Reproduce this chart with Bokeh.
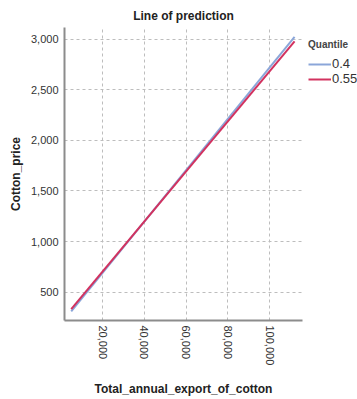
import math
from bokeh.plotting import figure
from bokeh.layouts import row
from bokeh.models import Legend, LegendItem, NumeralTickFormatter, FixedTicker, Range1d
from bokeh.embed import file_html
from bokeh.resources import INLINE

# data
quantiles = ["0.4", "0.55"]
x_ends = [5000, 112000]
y_q040 = [310, 3022]
y_q055 = [333, 2978]
colors = ["#8ba6d9", "#d2325f"]
x_ticks = [20000, 40000, 60000, 80000, 100000]
y_ticks = [500, 1000, 1500, 2000, 2500, 3000]

FONT = "Liberation Sans"

p = figure(width=303, height=399, output_backend="svg", toolbar_location=None,
           x_range=Range1d(1775, 115800), y_range=Range1d(221, 3114),
           min_border_left=64, min_border_right=1, min_border_top=27, min_border_bottom=68,
           title="Line of prediction")
p.title.text_font = FONT
p.title.text_font_size = "12px"
p.title.text_font_style = "bold"
p.title.align = "center"
p.title.text_color = "#222222"
p.title.offset = 0

p.outline_line_color = None
p.background_fill_color = "white"
p.border_fill_color = "white"

for ax in (p.xaxis[0], p.yaxis[0]):
    ax.axis_line_color = "#8c8c8c"
    ax.axis_line_width = 2
    ax.major_tick_line_color = None
    ax.minor_tick_line_color = None
    ax.major_tick_out = 0
    ax.major_tick_in = 0
    ax.major_label_text_font = FONT
    ax.major_label_text_font_size = "11px"
    ax.major_label_text_color = "#333333"
    ax.axis_label_text_font = FONT
    ax.axis_label_text_font_size = "12px"
    ax.axis_label_text_font_style = "bold"
    ax.axis_label_text_color = "#222222"
    ax.formatter = NumeralTickFormatter(format="0,0")

p.xaxis.ticker = FixedTicker(ticks=x_ticks)
p.yaxis.ticker = FixedTicker(ticks=y_ticks)
p.xaxis.major_label_orientation = -math.pi / 2
p.xaxis.major_label_standoff = 5
p.yaxis.major_label_standoff = 6
p.xaxis.axis_label = "Total_annual_export_of_cotton"
p.yaxis.axis_label = "Cotton_price"
p.xaxis.axis_label_standoff = 14
p.yaxis.axis_label_standoff = 5

p.grid.grid_line_color = "#bdbdbd"
p.grid.grid_line_dash = "3 3"
p.grid.grid_line_width = 1

p.line(x_ends, y_q040, line_color=colors[0], line_width=2)
p.line(x_ends, y_q055, line_color=colors[1], line_width=2)

# legend panel (proxy lines lie outside its visible range)
p2 = figure(width=54, height=399, output_backend="svg", toolbar_location=None,
            x_axis_location=None, y_axis_location=None,
            x_range=Range1d(0, 1), y_range=Range1d(0, 1),
            min_border=0, min_border_left=0, min_border_right=0,
            min_border_top=0, min_border_bottom=0)
p2.outline_line_color = None
p2.grid.visible = False
p2.border_fill_color = "white"
l1 = p2.line(x_ends, y_q040, line_color=colors[0], line_width=2)
l2 = p2.line(x_ends, y_q055, line_color=colors[1], line_width=2)

legend = Legend(items=[LegendItem(label=quantiles[0], renderers=[l1]),
                       LegendItem(label=quantiles[1], renderers=[l2])],
                location=(5, 234))
legend.title = "Quantile"
legend.title_text_font = FONT
legend.title_text_font_size = "10px"
legend.title_text_font_style = "bold"
legend.title_standoff = 6
legend.label_text_font = FONT
legend.label_text_font_size = "13px"
legend.label_text_color = "#333333"
legend.glyph_width = 23
legend.glyph_height = 14
legend.label_height = 14
legend.label_standoff = 1
legend.spacing = 0
legend.padding = 2
legend.margin = 0
legend.border_line_color = None
legend.background_fill_alpha = 0
p2.add_layout(legend)

layout = row(p, p2)
open("out.html", "w").write(file_html(layout, INLINE))
